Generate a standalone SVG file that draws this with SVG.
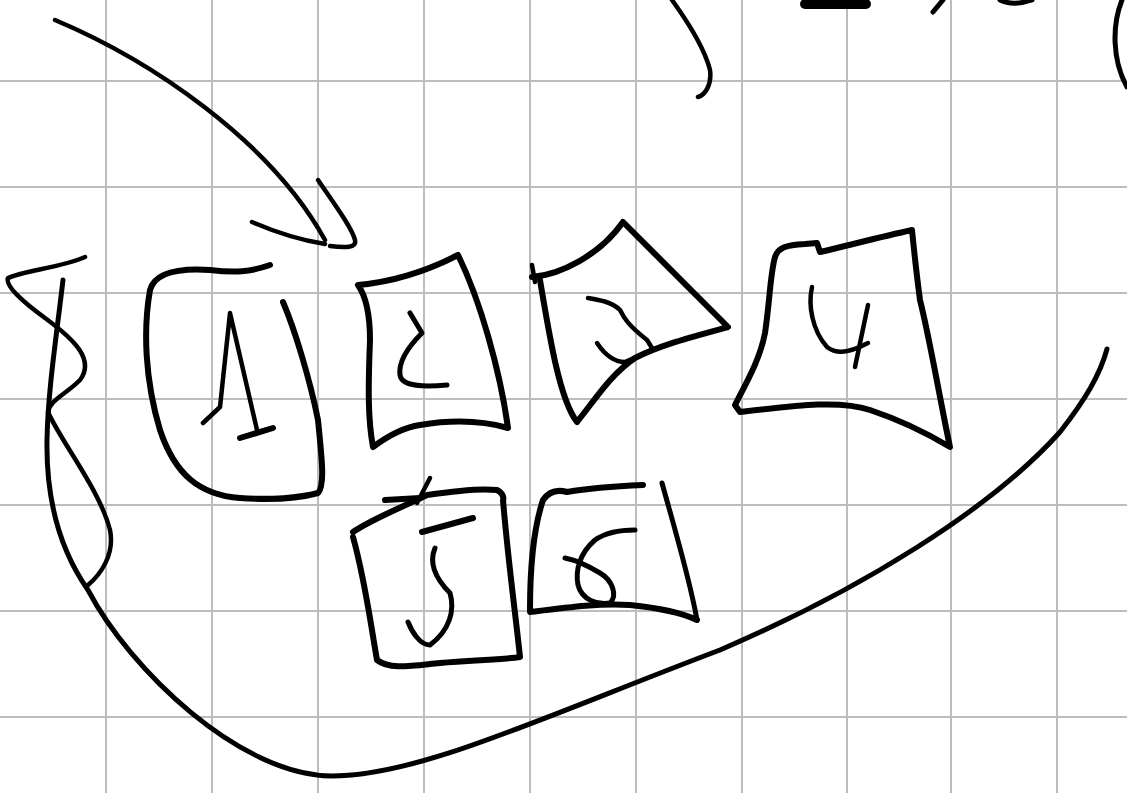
<svg xmlns="http://www.w3.org/2000/svg" width="1127" height="793" viewBox="0 0 1127 793">
<style>
.grid line{stroke:#bdbdbd;stroke-width:2}
.ink{fill:none;stroke:#000;stroke-width:6;stroke-linecap:round;stroke-linejoin:round}
.thin{stroke-width:4.5}
.mid{stroke-width:5}
</style>
<rect width="1127" height="793" fill="#fff"/>
<g class="grid">
<line x1="106" y1="0" x2="106" y2="793"/><line x1="212" y1="0" x2="212" y2="793"/><line x1="318" y1="0" x2="318" y2="793"/><line x1="424" y1="0" x2="424" y2="793"/><line x1="530" y1="0" x2="530" y2="793"/><line x1="636" y1="0" x2="636" y2="793"/><line x1="742" y1="0" x2="742" y2="793"/><line x1="847" y1="0" x2="847" y2="793"/><line x1="951" y1="0" x2="951" y2="793"/><line x1="1057" y1="0" x2="1057" y2="793"/>
<line x1="0" y1="81" x2="1127" y2="81"/><line x1="0" y1="187" x2="1127" y2="187"/><line x1="0" y1="293" x2="1127" y2="293"/><line x1="0" y1="399" x2="1127" y2="399"/><line x1="0" y1="505" x2="1127" y2="505"/><line x1="0" y1="611" x2="1127" y2="611"/><line x1="0" y1="717" x2="1127" y2="717"/>
</g>
<g id="top-fragments" class="ink">
<path class="thin" d="M672,0 C690,25 705,50 710,70 C712,85 705,95 698,97"/>
<path d="M805,4 L866,4" style="stroke-width:10"/>
<path class="mid" d="M933,12 L943,0"/>
<path class="mid" d="M1000,0 C1008,4 1020,4 1032,0"/>
<path class="mid" d="M1122,0 C1112,25 1112,60 1127,87"/>
</g>
<g id="connectors" class="ink">
<path class="thin" d="M55,20 C150,60 270,140 325,240"/>
<path class="thin" d="M318,180 C335,205 352,228 355,240 C357,248 345,248 330,246"/>
<path class="thin" d="M252,222 C275,232 300,240 325,244"/>
<path class="thin" d="M85,257 C60,268 25,270 8,278 C5,285 20,300 45,318 C75,340 95,360 80,380 C65,395 50,400 48,412 C60,440 100,490 110,530 C115,555 100,575 88,585"/>
<path class="mid" d="M63,280 C56,340 48,390 47,440 C46,500 60,550 88,590 C130,670 240,775 331,776 C420,776 540,718 720,650 C860,590 990,510 1060,432 C1085,400 1100,375 1107,349"/>
</g>
<g id="n1" class="ink">
<path d="M270,265 C250,272 235,273 210,270 C180,268 155,272 150,290 C143,330 145,380 160,430 C175,475 200,495 240,498 C270,500 300,498 318,493 C325,485 322,460 318,420 C310,380 295,330 283,302"/>
<path class="thin" d="M203,423 L220,407 L230,313 L257,430"/>
<path d="M240,438 L273,428"/>
</g>
<g id="n2" class="ink">
<path d="M358,285 C390,282 425,272 458,255 C480,300 500,370 508,428 C480,420 450,420 420,425 C400,428 385,438 373,447 C368,420 368,390 370,340 C370,310 365,295 358,285 Z"/>
<path class="mid" d="M410,313 L422,333 C410,345 398,360 400,375 C402,387 425,387 447,385"/>
</g>
<g id="n3" class="ink">
<path class="thin" d="M532,265 L535,282"/>
<path d="M532,277 C560,275 600,255 623,222 L728,327 C695,336 660,345 635,358 C610,375 595,400 577,422 C560,400 550,340 540,280"/>
<path class="thin" d="M588,298 C600,300 612,302 620,310 C624,318 628,325 647,340 L652,348"/>
<path class="thin" d="M597,343 C603,352 612,362 625,362 L652,350"/>
</g>
<g id="n4" class="ink">
<path d="M775,257 C778,248 785,245 805,244 L817,243 L820,252 C850,245 880,237 912,230 C915,260 918,285 920,300 C930,340 940,400 950,447 C930,435 900,420 870,410 C840,400 800,405 740,412 L735,405 C745,385 760,360 765,333 C770,300 770,275 775,257 Z"/>
<path class="thin" d="M812,287 C808,305 812,330 827,347 C835,353 845,355 868,343"/>
<path class="thin" d="M868,305 L855,367"/>
</g>
<g id="n5" class="ink">
<path d="M353,532 C370,520 400,508 427,495 C460,490 480,488 497,490 C503,493 504,498 503,500 C508,560 515,610 520,657 C500,660 470,660 440,663 C410,666 390,670 377,660 C370,620 365,580 353,537"/>
<path d="M385,500 L420,498"/>
<path class="thin" d="M430,478 L417,503"/>
<path d="M422,532 L473,518"/>
<path class="mid" d="M435,548 C430,560 432,575 450,593 C455,610 450,630 430,645 C420,645 412,632 408,622"/>
</g>
<g id="n6" class="ink">
<path d="M530,610 C530,570 533,530 543,500 C550,490 560,490 567,492 C590,488 620,486 643,485"/>
<path class="mid" d="M662,483 C675,530 690,580 697,620"/>
<path d="M697,620 C680,612 660,608 630,605 C600,603 570,607 530,612"/>
<path class="mid" d="M635,530 C620,530 605,533 595,540 C580,553 575,570 578,585 C582,600 597,605 610,603 C618,595 612,580 600,573 C590,567 575,560 565,558"/>
</g>
</svg>
